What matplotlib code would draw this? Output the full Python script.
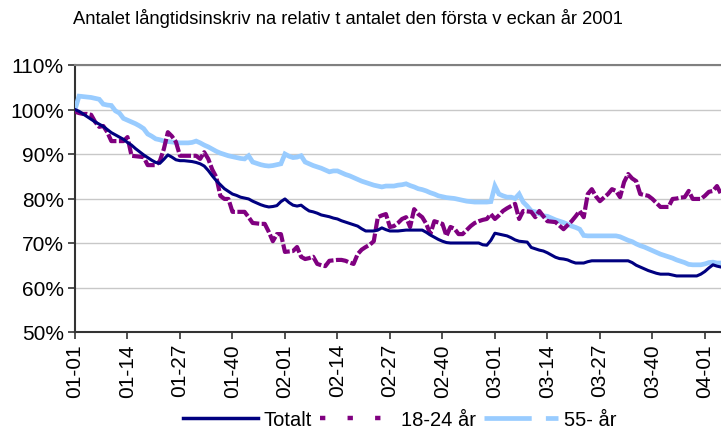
import matplotlib
matplotlib.use("Agg")
import matplotlib.pyplot as plt
from matplotlib.lines import Line2D

plt.rcParams['font.family'] = ['Liberation Sans', 'DejaVu Sans']

# week index 0 = 2001 week 1, 52 weeks per year
tick_labels = ["01-01", "01-14", "01-27", "01-40", "02-01", "02-14", "02-27",
               "02-40", "03-01", "03-14", "03-27", "03-40", "04-01"]
tick_pos = [0, 13, 26, 39, 52, 65, 78, 91, 104, 117, 130, 143, 156]

totalt = [
    100.0, 99.6, 99.0, 98.4, 97.8, 97.2, 96.7, 96.2, 95.5, 94.8, 94.3, 93.8, 93.3,
    92.6, 92.0, 91.2, 90.5, 89.8, 89.2, 88.6, 88.1, 87.9, 88.8, 89.8, 89.3, 88.7,
    88.5, 88.5, 88.4, 88.3, 88.1, 87.8, 87.3, 86.3, 85.1, 84.0, 83.1, 82.2, 81.6,
    81.0, 80.7, 80.3, 80.1, 79.9, 79.4, 79.0, 78.6, 78.3, 78.1, 78.2, 78.4, 79.3,
    79.9, 79.1, 78.5, 78.3, 78.5, 77.8, 77.2, 77.0, 76.7, 76.3, 76.1, 75.9, 75.6,
    75.4, 75.0, 74.7, 74.4, 74.1, 73.8, 73.2, 72.7, 72.7, 72.7, 72.9, 73.4, 73.0,
    72.7, 72.7, 72.7, 72.8, 72.9, 72.9, 72.9, 72.9, 72.9, 72.4, 71.8, 71.3, 70.8,
    70.4, 70.1, 70.0, 70.0, 70.0, 70.0, 70.0, 70.0, 70.0, 70.0, 69.6, 69.5, 70.6,
    72.2, 72.0, 71.8, 71.6, 71.2, 70.7, 70.4, 70.3, 70.2, 69.0, 68.7, 68.4, 68.2,
    67.8, 67.3, 66.8, 66.5, 66.4, 66.2, 65.8, 65.5, 65.5, 65.5, 65.8, 66.0, 66.0,
    66.0, 66.0, 66.0, 66.0, 66.0, 66.0, 66.0, 66.0, 65.6, 65.0, 64.6, 64.2, 63.8,
    63.5, 63.2, 63.0, 63.0, 63.0, 62.8, 62.6, 62.6, 62.6, 62.6, 62.6, 62.6, 63.0,
    63.6, 64.4, 65.1, 64.8, 64.6,
]

unga_18_24 = [
    99.5, 99.2, 99.0, 99.0, 98.8, 97.2, 96.1, 96.3, 94.9, 92.9, 92.9, 92.9, 92.9,
    93.8, 89.6, 89.5, 89.4, 89.3, 87.5, 87.5, 87.5, 88.4, 91.1, 94.9, 94.0, 92.7,
    89.6, 89.6, 89.6, 89.6, 89.6, 88.9, 90.4, 88.9, 86.5, 84.8, 80.6, 79.9, 79.9,
    77.0, 77.0, 77.0, 77.0, 75.8, 74.5, 74.4, 74.3, 74.3, 72.5, 70.4, 72.0, 72.0,
    68.0, 68.1, 68.2, 69.1, 66.9, 66.4, 66.6, 66.9, 65.3, 65.0, 64.8, 66.0, 66.1,
    66.2, 66.2, 66.0, 65.6, 65.3, 67.5, 68.5, 69.1, 69.6, 70.4, 75.8, 76.2, 76.5,
    73.6, 73.8, 74.5, 75.4, 75.8, 73.6, 77.6, 76.5, 75.8, 74.3, 72.0, 74.9, 74.6,
    74.3, 71.6, 73.6, 73.2, 72.0, 72.0, 72.9, 73.8, 74.5, 74.9, 75.2, 75.4, 76.5,
    75.4, 76.2, 77.2, 77.8, 78.3, 78.8, 75.4, 77.2, 77.1, 77.0, 75.8, 77.2, 76.0,
    74.9, 74.8, 74.7, 73.9, 73.1, 74.0, 74.9, 76.0, 77.2, 75.8, 81.0, 82.1, 80.5,
    79.4, 80.2, 81.0, 82.1, 81.7, 80.3, 83.7, 85.5, 84.5, 83.9, 81.0, 80.8, 80.6,
    79.9, 79.0, 78.1, 78.1, 78.1, 79.9, 80.0, 80.2, 80.3, 81.7, 79.9, 79.9, 79.9,
    80.6, 81.5, 81.7, 82.8, 81.0,
]

aldre_55 = [
    100.0, 103.0, 102.9, 102.8, 102.7, 102.5, 102.3, 101.2, 101.0, 100.9, 99.7, 99.2, 98.0,
    97.6, 97.2, 96.8, 96.3, 95.7, 94.5, 94.0, 93.4, 93.2, 92.9, 92.8, 92.7, 92.6,
    92.5, 92.5, 92.5, 92.6, 92.9, 92.5, 92.0, 91.6, 91.1, 90.6, 90.2, 89.9, 89.6,
    89.4, 89.2, 89.0, 88.9, 89.6, 88.2, 87.9, 87.6, 87.4, 87.3, 87.4, 87.6, 87.8,
    90.0, 89.5, 89.2, 89.3, 89.6, 88.2, 87.8, 87.4, 87.1, 86.8, 86.4, 86.0, 86.2,
    86.2, 85.8, 85.4, 85.1, 84.7, 84.3, 83.9, 83.6, 83.3, 83.0, 82.8, 82.6, 82.8,
    82.8, 82.8, 83.0, 83.1, 83.3, 82.9, 82.6, 82.2, 82.0, 81.7, 81.3, 81.0, 80.6,
    80.4, 80.2, 80.1, 80.0, 79.8, 79.6, 79.4, 79.3, 79.2, 79.2, 79.2, 79.2, 79.3,
    82.8, 81.0, 80.6, 80.3, 80.3, 80.0, 81.0, 79.2, 78.3, 77.2, 77.0, 76.6, 76.1,
    76.0, 75.6, 75.2, 74.9, 74.6, 74.2, 73.8, 73.5, 73.1, 71.7, 71.6, 71.6, 71.6,
    71.6, 71.6, 71.6, 71.6, 71.6, 71.4, 71.0, 70.6, 70.3, 69.8, 69.4, 69.1, 68.7,
    68.3, 67.9, 67.5, 67.2, 66.9, 66.6, 66.2, 65.9, 65.6, 65.2, 65.1, 65.1, 65.1,
    65.3, 65.6, 65.7, 65.5, 65.5,
]

weeks = list(range(len(totalt)))

fig = plt.figure(figsize=(7.21, 4.39), dpi=100)
ax = fig.add_axes([75 / 721, 1 - 333 / 439, 1 - 75 / 721, (333 - 66) / 439])

ax.plot(weeks, aldre_55, color="#99CCFF", lw=3.4, solid_joinstyle="miter", zorder=3)
ax.plot(weeks, unga_18_24, color="#800080", lw=3.0, linestyle=(0, (3.0, 0.6)), zorder=4)
ax.plot(weeks, totalt, color="#000080", lw=2.2, zorder=5)

ax.set_xlim(0, 160)
ax.set_ylim(50, 110)
ax.set_yticks(range(50, 111, 10))
ax.set_yticklabels([f"{v}%" for v in range(50, 111, 10)], fontsize=15)
ax.set_xticks(tick_pos)
ax.set_xticklabels(tick_labels, rotation=90, fontsize=15)

ax.grid(axis="y", color="#C8C8C8", lw=1.0)
ax.set_axisbelow(True)
ax.spines["right"].set_visible(False)
ax.spines["top"].set_color("#808080")
ax.spines["top"].set_linewidth(1.5)
ax.spines["left"].set_color("#333333")
ax.spines["left"].set_linewidth(1.5)
ax.spines["bottom"].set_color("#333333")
ax.spines["bottom"].set_linewidth(1.5)
ax.tick_params(axis="both", direction="out", length=5, width=1.2, color="#333333", pad=3)

fig.text(0.482, 0.958, "Antalet långtidsinskriv na relativ t antalet den första v eckan år 2001",
         ha="center", va="center", fontsize=13.2)

handles = [
    Line2D([], [], color="#000080", lw=2.5),
    Line2D([], [], color="#800080", lw=3.2, linestyle=(0, (1.2, 5))),
    Line2D([], [], color="#99CCFF", lw=3.4, linestyle=(0, (10, 3))),
]
fig.legend(handles, ["Totalt", "18-24 år", "55- år"], loc="center",
           bbox_to_anchor=(0.555, 0.043), ncol=3, frameon=False, fontsize=14.5,
           handlelength=3.7, handletextpad=0.3, columnspacing=0.4)

fig.savefig("out.png", dpi=100)
